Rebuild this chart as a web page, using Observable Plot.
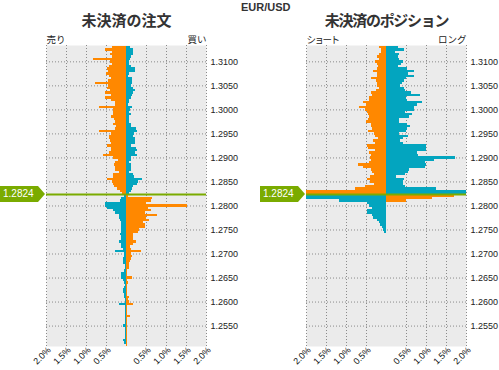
<!DOCTYPE html>
<html><head><meta charset="utf-8">
<script src="https://cdn.jsdelivr.net/npm/d3@7"></script>
<script src="https://cdn.jsdelivr.net/npm/@observablehq/plot@0.6"></script>
<style>
body{margin:0;background:#fff;}
#wrap{position:relative;width:499px;height:370px;overflow:hidden;background:#fff;}
.panel{position:absolute;top:0;}
.tag{position:absolute;width:45px;height:16px;background:#7aab00;color:#fff;font:10px "Liberation Sans",Arial,sans-serif;line-height:16px;padding-left:3px;box-sizing:border-box;clip-path:polygon(0 0,38px 0,45px 50%,38px 100%,0 100%);}
#pair{position:absolute;left:241px;top:2px;font:bold 11px "Liberation Sans",Arial,sans-serif;color:#333;line-height:11px;}
</style></head>
<body><div id="wrap"><div id="pair">EUR/USD</div></div>
<script>
// ---- data ----
const currentPrice = 1.2824;
const currentLabel = "1.2824";
const prices = [
1.3130,1.3125,1.3120,1.3115,1.3110,1.3105,1.3100,1.3095,1.3090,1.3085,
1.3080,1.3075,1.3070,1.3065,1.3060,1.3055,1.3050,1.3045,1.3040,1.3035,
1.3030,1.3025,1.3020,1.3015,1.3010,1.3005,1.3000,1.2995,1.2990,1.2985,
1.2980,1.2975,1.2970,1.2965,1.2960,1.2955,1.2950,1.2945,1.2940,1.2935,
1.2930,1.2925,1.2920,1.2915,1.2910,1.2905,1.2900,1.2895,1.2890,1.2885,
1.2880,1.2875,1.2870,1.2865,1.2860,1.2855,1.2850,1.2845,1.2840,1.2835,
1.2830,1.2825,
1.2820,1.2815,1.2810,1.2805,1.2800,1.2795,1.2790,1.2785,
1.2780,1.2775,1.2770,1.2765,1.2760,1.2755,1.2750,1.2745,1.2740,1.2735,
1.2730,1.2725,1.2720,1.2715,1.2710,1.2705,1.2700,1.2695,1.2690,1.2685,
1.2680,1.2675,1.2670,1.2665,1.2660,1.2655,1.2650,1.2645,1.2640,1.2635,
1.2630,1.2625,1.2620,1.2615,1.2610,1.2605,1.2600,1.2595,1.2590,1.2585,
1.2580,1.2575,1.2570,1.2565,1.2560,1.2555,1.2550,1.2545,1.2540,1.2535,
1.2530,1.2525,1.2520,1.2515,1.2510];

// open orders: left side (sell) and right side (buy), % of total
const ordersLeft = [
0.35,0.52,0.35,0.40,0.35,0.83,0.40,0.35,0.42,0.47,
0.46,0.50,0.42,0.38,0.45,0.77,0.45,0.47,0.40,0.52,
0.37,0.52,0.37,0.28,0.27,0.68,0.32,0.32,0.33,0.37,
0.29,0.27,0.32,0.25,0.28,0.68,0.38,0.43,0.42,0.40,
0.37,0.47,0.38,0.37,0.43,0.57,0.32,0.20,0.27,0.30,
0.27,0.27,0.18,0.33,0.33,0.47,0.35,0.32,0.30,0.22,
0.15,0.10,
0.04,0.12,0.15,0.53,0.53,0.47,0.33,0.27,
0.18,0.18,0.15,0.13,0.13,0.13,0.13,0.13,0.15,0.12,
0.13,0.17,0.12,0.13,0.08,0.28,0.05,0.05,0.07,0.08,
0.08,0.03,0.03,0.05,0.12,0.12,0.12,0.08,0.05,0.03,
0.05,0.07,0.07,0.05,0.05,0.03,0.03,0.17,0.03,0.03,
0.03,0.03,0.03,0.03,0.03,0.03,0.07,0.03,0.03,0.03,
0.03,0.03,0.07,0.04,0.00];
const ordersRight = [
0.10,0.18,0.17,0.18,0.13,0.10,0.08,0.08,0.13,0.23,
0.22,0.08,0.05,0.15,0.15,0.15,0.13,0.18,0.23,0.18,
0.15,0.13,0.08,0.08,0.05,0.15,0.10,0.08,0.13,0.07,
0.07,0.08,0.12,0.13,0.25,0.28,0.20,0.17,0.22,0.22,
0.22,0.13,0.25,0.28,0.22,0.28,0.13,0.13,0.08,0.13,
0.12,0.12,0.08,0.18,0.21,0.40,0.29,0.27,0.18,0.15,
0.12,0.08,
0.06,0.65,0.62,0.50,1.53,0.55,0.62,0.47,
0.77,0.50,0.58,0.42,0.47,0.48,0.33,0.30,0.18,0.18,
0.17,0.25,0.17,0.10,0.12,0.38,0.13,0.15,0.13,0.10,
0.08,0.07,0.08,0.03,0.02,0.02,0.15,0.03,0.05,0.02,
0.03,0.02,0.03,0.03,0.07,0.05,0.07,0.18,0.02,0.02,
0.03,0.03,0.10,0.02,0.02,0.02,0.02,0.03,0.02,0.03,
0.03,0.02,0.03,0.03,0.03];

// open positions: left side (short) and right side (long), % of total
const positionsLeft = [
0.17,0.12,0.12,0.17,0.22,0.17,0.27,0.22,0.20,0.23,
0.33,0.23,0.22,0.37,0.25,0.22,0.23,0.18,0.25,0.37,
0.35,0.42,0.42,0.58,0.50,0.67,0.52,0.48,0.45,0.42,
0.45,0.50,0.38,0.37,0.35,0.45,0.30,0.27,0.20,0.32,
0.28,0.47,0.45,0.27,0.42,0.38,0.40,0.38,0.42,0.70,
0.57,0.38,0.36,0.30,0.40,0.48,0.40,0.30,0.52,0.77,
2.50,2.50,
2.50,2.50,1.18,0.48,0.43,0.35,0.47,0.47,
0.35,0.32,0.23,0.18,0.15,0.10,0.07,0.05,0,0,
0,0,0,0,0,0,0,0,0,0,
0,0,0,0,0,0,0,0,0,0,
0,0,0,0,0,0,0,0,0,0,
0,0,0,0,0,0,0,0,0,0,
0,0,0,0,0];
const positionsRight = [
0.30,0.46,0.23,0.33,0.30,0.32,0.43,0.38,0.30,0.52,
0.70,0.55,0.70,0.50,0.45,0.40,0.35,0.45,0.47,0.62,
0.85,0.50,0.53,0.90,0.77,0.70,0.70,0.48,0.65,0.57,
0.33,0.32,0.52,0.60,0.53,0.50,0.32,0.55,0.42,0.35,
0.42,1.00,1.00,1.00,0.77,0.80,1.73,1.20,0.98,1.00,
0.97,0.58,0.54,0.48,0.25,0.44,0.43,0.43,0.48,1.25,
2.50,2.50,
1.71,1.15,0.50,0,0,0,0,0,
0,0,0,0,0,0,0,0,0,0,
0,0,0,0,0,0,0,0,0,0,
0,0,0,0,0,0,0,0,0,0,
0,0,0,0,0,0,0,0,0,0,
0,0,0,0,0,0,0,0,0,0,
0,0,0,0,0];

const yTicks = [1.3100,1.3050,1.3000,1.2950,1.2900,1.2850,1.2800,1.2750,1.2700,1.2650,1.2600,1.2550];
const xGrid = [-2,-1.5,-1,-0.5,0.5,1,1.5,2];
const xTicks = [-2,-1.5,-1,-0.5,0.5,1,1.5,2];
const xTickLabels = ["2.0%","1.5%","1.0%","0.5%","0.5%","1.0%","1.5%","2.0%"];

const titles = ["未決済の注文", "未決済のポジション"];
const sideLabels = [["売り","買い"], ["ショート","ロング"]];

// ---- style ----
const ORANGE = "#ff8800", CYAN = "#03a5bf", GREEN = "#7aab00";
const half = 0.00025;
const yDomain = [1.25075, 1.3134];

function panel(title, labels, leftVals, rightVals, width, marginRight) {
  const rows = [];
  prices.forEach((p, i) => {
    const above = p > currentPrice;
    if (leftVals[i] > 0) rows.push({y1: p - half, y2: p + half, x1: -leftVals[i], x2: 0, color: above ? ORANGE : CYAN});
    if (rightVals[i] > 0) rows.push({y1: p - half, y2: p + half, x1: 0, x2: rightVals[i], color: above ? CYAN : ORANGE});
  });
  const tickRows = xTicks.map((v, i) => ({v, label: xTickLabels[i]}));
  const jp = "Noto Sans CJK JP, sans-serif";
  return Plot.plot({
    width, height: 370,
    marginLeft: 46, marginRight, marginTop: 45, marginBottom: 24,
    style: {fontFamily: "Liberation Sans, Arial, sans-serif", fontSize: "9px", color: "#222", background: "transparent", overflow: "visible"},
    x: {domain: [-2, 2], clamp: true, axis: null},
    y: {domain: yDomain, axis: "right", ticks: yTicks, tickFormat: d3.format(".4f"), tickSize: 0, tickPadding: 4, label: null},
    color: {type: "identity"},
    marks: [
      Plot.frame({fill: "#ebebeb", stroke: "none"}),
      Plot.ruleX(xGrid, {stroke: "#8a8a8a", strokeDasharray: "1,2"}),
      Plot.ruleY(yTicks, {stroke: "#8a8a8a", strokeDasharray: "1,2"}),
      Plot.rect(rows, {x1: "x1", x2: "x2", y1: "y1", y2: "y2", fill: "color", shapeRendering: "crispEdges"}),
      Plot.ruleY([currentPrice], {stroke: GREEN, strokeWidth: 2}),
      Plot.text(tickRows, {x: "v", frameAnchor: "bottom", text: "label", rotate: -45, textAnchor: "end", dx: 5, dy: 4, fontSize: 9, fill: "#111"}),
      Plot.text([title], {frameAnchor: "top", text: d => d, lineAnchor: "bottom", dy: -19.3, fontSize: 15, fontWeight: "bold", fontFamily: jp, fill: "#333"}),
      Plot.text([labels[0]], {frameAnchor: "top-left", text: d => d, textAnchor: "start", lineAnchor: "bottom", dy: -2.5, fontSize: 9.5, fontFamily: jp, fill: "#222"}),
      Plot.text([labels[1]], {frameAnchor: "top-right", text: d => d, textAnchor: "end", lineAnchor: "bottom", dy: -2.5, fontSize: 9.5, fontFamily: jp, fill: "#222"})
    ]
  });
}

const wrap = document.getElementById("wrap");
const specs = [
  {left: 0, width: 260, marginRight: 54, l: ordersLeft, r: ordersRight},
  {left: 260, width: 239, marginRight: 33, l: positionsLeft, r: positionsRight}
];
specs.forEach((s, k) => {
  const chart = panel(titles[k], sideLabels[k], s.l, s.r, s.width, s.marginRight);
  chart.classList.add("panel");
  chart.style.left = s.left + "px";
  wrap.appendChild(chart);
  // tighten the wide katakana strings like the reference
  chart.querySelectorAll("text").forEach(t => {
    if (t.textContent === "未決済のポジション") t.setAttribute("letter-spacing", "-1.3");
    if (t.textContent === "ショート") t.setAttribute("letter-spacing", "-1.5");
  });
  const yPx = chart.scale("y").apply(currentPrice);
  const tag = document.createElement("div");
  tag.className = "tag";
  tag.textContent = currentLabel;
  tag.style.left = s.left + "px";
  tag.style.top = (yPx - 8) + "px";
  wrap.appendChild(tag);
});
</script></body></html>
